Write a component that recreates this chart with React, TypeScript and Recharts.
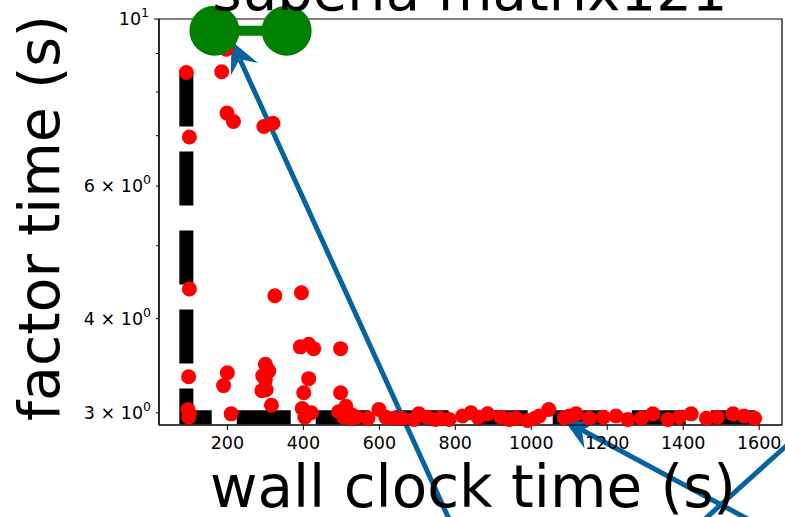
import React from 'react';
import { ComposedChart, Line, Scatter, XAxis, YAxis, ReferenceLine, ReferenceArea } from 'recharts';

// measured runs: wall clock (s) vs factor time (s)
const wallClock = [
  92, 185, 199, 216, 296, 320, 100, 197,
  100, 325, 395, 392, 414, 427, 498,
  98, 200, 190, 300, 309, 293, 300, 291, 302, 316, 414, 401, 498,
  210, 96, 98, 100, 397, 421, 404, 493, 511, 507, 524, 512, 528, 540, 570,
  599, 617, 638, 660, 691, 704, 726, 748, 760, 784, 819, 841, 860, 885,
  920, 942, 960, 990, 1010, 1021, 1046, 1087, 1100, 1118, 1153, 1190, 1223,
  1254, 1290, 1320, 1360, 1390, 1421, 1461, 1490, 1531, 1560, 1588,
];
const factorTime = [
  8.49, 8.51, 7.5, 7.31, 7.2, 7.27, 6.97, 9.12,
  4.38, 4.29, 4.33, 3.67, 3.7, 3.65, 3.65,
  3.35, 3.39, 3.26, 3.48, 3.41, 3.36, 3.32, 3.21, 3.22, 3.07, 3.33, 3.19, 3.19,
  2.99, 3.03, 2.96, 2.99, 3.04, 3.0, 2.96, 3.01, 3.04, 2.96, 2.95, 3.06, 2.98, 2.96, 2.95,
  3.03, 2.96, 2.95, 2.95, 2.94, 2.99, 2.96, 2.94, 2.95, 2.94, 2.97, 3.0, 2.96, 2.99,
  2.96, 2.94, 2.95, 2.93, 2.95, 2.97, 3.03, 2.955, 2.97, 2.99, 2.95, 2.96, 2.97,
  2.94, 2.95, 2.99, 2.94, 2.96, 2.99, 2.95, 2.96, 2.99, 2.97, 2.95,
];

// dashed front line
const frontX = [92, 92, 1590];
const frontY = [8.49, 2.96, 2.96];

// green marker pair
const markX = [166, 356];
const markY = [9.65, 9.65];

// annotation arrows (tail -> tip)
const arrowTailX = [815, 1699, 1380];
const arrowTailY = [2.0, 2.0, 2.0];
const arrowTipX = [211, 1087, 1865];
const arrowTipY = [9.35, 2.93, 3.32];
const arrowHasHead = [true, true, false];

const xDomain = [20, 1660];
const yDomain = [2.89, 10];
const xTicks = [200, 400, 600, 800, 1000, 1200, 1400, 1600];
const yTicks = [3, 4, 5, 6, 7, 8, 9, 10];
const yTickText: Record<number, [string, string]> = {
  3: ['3 \u00d7 10', '0'],
  4: ['4 \u00d7 10', '0'],
  6: ['6 \u00d7 10', '0'],
  10: ['10', '1'],
};

const font = '"DejaVu Sans", sans-serif';
const blue = '#0762a0';

const points = wallClock.map((x, i) => ({ x, y: factorTime[i] }));
const front = frontX.map((x, i) => ({ x, y: frontY[i] }));
const marks = markX.map((x, i) => ({ x, y: markY[i] }));

const YTick = (props: any) => {
  const { x, y, payload } = props;
  const v = payload.value;
  const len = v === 10 ? 5 : 3;
  const lab = yTickText[v];
  return (
    <g>
      <line x1={x - len} x2={x} y1={y} y2={y} stroke="#000" strokeWidth={1} />
      {lab && (
        <text x={x - len - 5} y={y + 6} textAnchor="end" fontFamily={font} fontSize={17.5} fill="#000">
          <tspan>{lab[0]}</tspan>
          <tspan dy={-8} fontSize={12.5}>{lab[1]}</tspan>
        </text>
      )}
    </g>
  );
};

const Arrow = (head: boolean) => (props: any) => {
  const { x1, y1, x2, y2 } = props;
  const dx = x2 - x1;
  const dy = y2 - y1;
  const d = Math.sqrt(dx * dx + dy * dy) || 1;
  const ux = dx / d;
  const uy = dy / d;
  const nx = -uy;
  const ny = ux;
  if (!head) {
    return <line x1={x1} y1={y1} x2={x2} y2={y2} stroke={blue} strokeWidth={5} />;
  }
  const L = 31;
  const W = 15;
  const notch = 20;
  const bx = x2 - ux * L;
  const by = y2 - uy * L;
  const sx = x2 - ux * notch;
  const sy = y2 - uy * notch;
  const pts = [
    [x2, y2],
    [bx + nx * W, by + ny * W],
    [sx, sy],
    [bx - nx * W, by - ny * W],
  ]
    .map((p) => p.join(','))
    .join(' ');
  return (
    <g>
      <line x1={x1} y1={y1} x2={sx} y2={sy} stroke={blue} strokeWidth={5} />
      <polygon points={pts} fill={blue} />
    </g>
  );
};

export default function App() {
  return (
    <div style={{ position: 'absolute', left: 0, top: 0, width: 785, height: 517, background: '#fff', overflow: 'hidden' }}>
      <ComposedChart width={785} height={517} margin={{ top: 19, right: 3, bottom: 32, left: 79 }}>
        <XAxis
          dataKey="x"
          type="number"
          domain={xDomain}
          ticks={xTicks}
          height={60}
          tickSize={5}
          tickMargin={7}
          tick={{ fontFamily: font, fontSize: 17.5, fill: '#000' }}
          axisLine={{ stroke: '#000', strokeWidth: 1.2 }}
          tickLine={{ stroke: '#000' }}
        />
        <YAxis
          dataKey="y"
          type="number"
          scale="log"
          domain={yDomain}
          ticks={yTicks}
          width={80}
          tickSize={0}
          tickMargin={0}
          tickLine={false}
          tick={<YTick />}
          axisLine={{ stroke: '#000', strokeWidth: 1.2 }}
        />
        <ReferenceArea
          x1={xDomain[0]}
          x2={xDomain[1]}
          y1={yDomain[0]}
          y2={yDomain[1]}
          fill="none"
          fillOpacity={0}
          stroke="#000"
          strokeWidth={1.2}
          ifOverflow="visible"
        />
        <Line
          data={front}
          dataKey="y"
          type="linear"
          stroke="#000"
          strokeWidth={14}
          strokeDasharray="54 25"
          dot={false}
          activeDot={false}
          isAnimationActive={false}
        />
        <Scatter
          data={points}
          fill="red"
          isAnimationActive={false}
          shape={(p: any) => <circle cx={p.cx} cy={p.cy} r={7.5} fill="red" />}
        />
        <Scatter
          data={marks}
          fill="green"
          line={{ stroke: '#008000', strokeWidth: 10 }}
          isAnimationActive={false}
          shape={(p: any) => <circle cx={p.cx} cy={p.cy} r={25} fill="#008000" />}
        />
        {arrowTailX.map((tx, i) => (
          <ReferenceLine
            key={i}
            segment={[
              { x: tx, y: arrowTailY[i] },
              { x: arrowTipX[i], y: arrowTipY[i] },
            ]}
            ifOverflow="visible"
            shape={Arrow(arrowHasHead[i])}
          />
        ))}
      </ComposedChart>
      <svg width={785} height={517} style={{ position: 'absolute', left: 0, top: 0, pointerEvents: 'none' }}>
        <text x={470} y={10} textAnchor="middle" fontFamily={font} fontSize={56} fill="#000">
          suberia matrix121
        </text>
        <text transform="translate(59,218) rotate(-90)" textAnchor="middle" fontFamily={font} fontSize={57} fill="#000">
          factor time (s)
        </text>
        <text x={473} y={507} textAnchor="middle" fontFamily={font} fontSize={58} fill="#000">
          wall clock time (s)
        </text>
      </svg>
    </div>
  );
}
